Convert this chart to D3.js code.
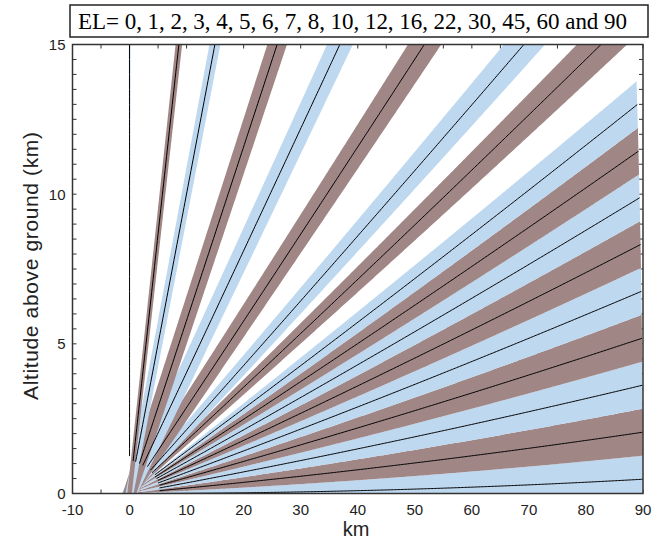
<!DOCTYPE html>
<html>
<head>
<meta charset="utf-8">
<script src="https://cdn.jsdelivr.net/npm/d3@7"></script>
<style>
  body { margin: 0; background: #fff; }
  svg { display: block; }
</style>
</head>
<body>
<svg id="chart" width="661" height="544"></svg>
<script>
// elevation angles of the scan (deg)
const elevations = [0, 1, 2, 3, 4, 5, 6, 7, 8, 10, 12, 16, 22, 30, 45, 60, 90];
// extra horizontal spread of each drawn band (km)
const bandPad = [0, 0, 0, 0, 0, 0, 0, 0, 0, 0.8, 1.5, 2.5, 2.7, 2.4, 1.4, 0.8, 0];
const beamWidth = 1;        // deg
const maxRange = 90;        // km, slant range drawn
const xTicks = [-10, 0, 10, 20, 30, 40, 50, 60, 70, 80, 90];
const yTicks = [0, 5, 10, 15];
const title = 'EL= 0, 1, 2, 3, 4, 5, 6, 7, 8, 10, 12, 16, 22, 30, 45, 60 and 90';

const svg = d3.select('#chart');
const m = { left: 72.5, right: 643, top: 44.5, bottom: 493.5 };

const x = d3.scaleLinear().domain([-10, 90]).range([m.left, m.right]);
const y = d3.scaleLinear().domain([0, 15]).range([m.bottom, m.top]);

const blue = '#bed8f0';
const brown = '#a18686';

// 4/3 earth beam path
const ke = 4 / 3 * 6371;
const beamPoint = (r, el) => {
	const t = el * Math.PI / 180;
	const h = Math.sqrt(r * r + ke * ke + 2 * r * ke * Math.sin(t)) - ke;
	const s = ke * Math.asin(r * Math.cos(t) / (ke + h));
	return [s, h];
};
const ranges = d3.range(0, maxRange + 0.001, 0.25);

svg.append('clipPath').attr('id', 'plot')
	.append('rect')
	.attr('x', m.left).attr('y', m.top)
	.attr('width', m.right - m.left).attr('height', m.bottom - m.top);

// ticks (inside, all four sides)
const ticks = svg.append('g').attr('stroke', '#333').attr('stroke-width', 1);
d3.range(-10, 90.01, 5).forEach(v => {
	ticks.append('line').attr('x1', x(v)).attr('x2', x(v)).attr('y1', m.bottom).attr('y2', m.bottom - 4);
	ticks.append('line').attr('x1', x(v)).attr('x2', x(v)).attr('y1', m.top).attr('y2', m.top + 4);
});
d3.range(0, 15.01, 0.5).forEach(v => {
	ticks.append('line').attr('x1', m.left).attr('x2', m.left + 4).attr('y1', y(v)).attr('y2', y(v));
	ticks.append('line').attr('x1', m.right).attr('x2', m.right - 4).attr('y1', y(v)).attr('y2', y(v));
});

const line = d3.line().x(d => x(d[0])).y(d => y(d[1]));

const plot = svg.append('g').attr('clip-path', 'url(#plot)');

// beams
plot.selectAll('path.band')
	.data(elevations)
	.join('path')
	.attr('class', 'band')
	.attr('fill', (d, i) => i % 2 ? brown : blue)
	.attr('d', (el, i) => {
		const p = bandPad[i] / 2;
		const upper = ranges.map(r => beamPoint(r, el + beamWidth / 2)).map(d => [d[0] - p, d[1]]);
		const lower = ranges.map(r => beamPoint(r, el - beamWidth / 2)).map(d => [d[0] + p, d[1]]).reverse();
		return line(upper.concat(lower)) + 'Z';
	});

// centre lines start ~30 px from the radar
plot.selectAll('path.centre')
	.data(elevations)
	.join('path')
	.attr('class', 'centre')
	.attr('fill', 'none')
	.attr('stroke', '#000')
	.attr('stroke-width', 1)
	.attr('d', el => line(ranges.map(r => beamPoint(r, el))
		.filter(d => Math.hypot(x(d[0]) - x(0), y(d[1]) - y(0)) >= 30)));

// frame
svg.append('rect')
	.attr('x', m.left).attr('y', m.top)
	.attr('width', m.right - m.left).attr('height', m.bottom - m.top)
	.attr('fill', 'none').attr('stroke', '#333').attr('stroke-width', 1.5);

// tick labels
svg.append('g')
	.selectAll('text')
	.data(xTicks)
	.join('text')
	.attr('x', d => x(d))
	.attr('y', m.bottom + 21)
	.attr('text-anchor', 'middle')
	.attr('font-family', 'Liberation Sans, Arial, sans-serif')
	.attr('font-size', 15)
	.attr('fill', '#222')
	.text(d => d);

svg.append('g')
	.selectAll('text')
	.data(yTicks)
	.join('text')
	.attr('x', m.left - 7)
	.attr('y', d => y(d) + 5.5)
	.attr('text-anchor', 'end')
	.attr('font-family', 'Liberation Sans, Arial, sans-serif')
	.attr('font-size', 15)
	.attr('fill', '#222')
	.text(d => d);

svg.append('text')
	.attr('x', 356)
	.attr('y', 536)
	.attr('text-anchor', 'middle')
	.attr('font-family', 'Liberation Sans, Arial, sans-serif')
	.attr('font-size', 20)
	.attr('fill', '#222')
	.text('km');

svg.append('text')
	.attr('transform', 'translate(38, 266) rotate(-90)')
	.attr('text-anchor', 'middle')
	.attr('font-family', 'Liberation Sans, Arial, sans-serif')
	.attr('font-size', 21)
	.attr('textLength', 268)
	.attr('fill', '#222')
	.text('Altitude above ground (km)');

// title box
svg.append('rect')
	.attr('x', 70).attr('y', 5)
	.attr('width', 578).attr('height', 32)
	.attr('fill', '#fff').attr('stroke', '#222').attr('stroke-width', 1.5);

svg.append('text')
	.attr('x', 78)
	.attr('y', 29)
	.attr('font-family', 'Liberation Serif, Times New Roman, serif')
	.attr('font-size', 23)
	.attr('textLength', 549)
	.attr('fill', '#000')
	.text(title);
</script>
</body>
</html>
